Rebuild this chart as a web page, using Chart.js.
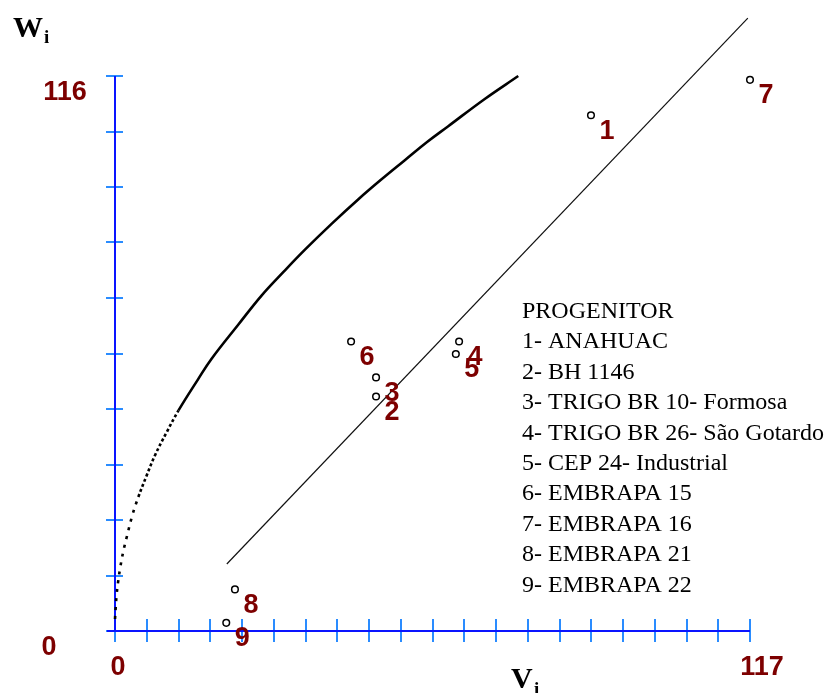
<!DOCTYPE html>
<html>
<head>
<meta charset="utf-8">
<title>Vi x Wi</title>
<script src="https://cdn.jsdelivr.net/npm/chart.js@4.4.1/dist/chart.umd.min.js"></script>
<style>
	html, body { margin: 0; padding: 0; background: #fff; }
	#wrap { position: relative; width: 831px; height: 693px; }
</style>
</head>
<body>
<div id="wrap"><canvas id="vrwr"></canvas></div>
<script>
// progenitors (Vi, Wi)
const progenitorIds = ["1", "2", "3", "4", "5", "6", "7", "8", "9"];
const progenitorV = [87.7, 48.1, 48.1, 63.4, 62.8, 43.5, 117.0, 22.1, 20.5];
const progenitorW = [107.8, 49.0, 53.0, 60.5, 57.9, 60.5, 115.2, 8.7, 1.7];

const progenitorNames = [
	"PROGENITOR",
	"1- ANAHUAC",
	"2- BH 1146",
	"3- TRIGO BR 10- Formosa",
	"4- TRIGO BR 26- São Gotardo",
	"5- CEP 24- Industrial",
	"6- EMBRAPA 15",
	"7- EMBRAPA 16",
	"8- EMBRAPA 21",
	"9- EMBRAPA 22",
];

// limiting parabola
const parabolaV = [0.0, 0.1, 0.3, 0.6, 0.9, 1.5, 2.2, 3.2, 4.3, 5.8, 7.4, 9.5, 11.7, 15.3, 17.8, 22.7, 27.0, 31.0, 35.0, 40.0, 44.8, 49.0, 53.4, 57.5, 61.4, 68.0, 74.3];
const parabolaW = [2.5, 4.4, 7.6, 10.5, 12.8, 16.5, 19.8, 24.2, 28.0, 32.4, 36.8, 41.5, 46.1, 52.6, 56.9, 64.0, 70.1, 75.0, 79.7, 85.2, 90.2, 94.3, 98.4, 102.2, 105.5, 111.1, 116.0];

// regression line Wi = a + b Vi
const regressionV = [20.6, 116.6];
const regressionW = [14.0, 128.1];

// axis ticks
const xTickCount = 20;
const yTickCount = 10;
const xMax = 117;
const yMax = 116;
const xTickLabels = ["0", "117"];
const yTickLabels = ["0", "116"];

const AXIS_BLUE = "#0a14ff";
const TICK_BLUE = "#2a8cff";
const LABEL_RED = "#7d0000";

const toPoints = (xs, ys) => xs.map((x, i) => ({ x: x, y: ys[i] }));

// the parabola is plotted point by point, so its steep lower part breaks into dots
const parabolaDash = (seg) => {
	const w = seg.p0.parsed.y;
	if (w < 26) return [3, 6];
	if (w < 46) return [3, 2.5];
	return undefined;
};

const axesPlugin = {
	id: "vrwrAxes",
	beforeDatasetsDraw(chart) {
		const ctx = chart.ctx;
		const xs = chart.scales.x;
		const ys = chart.scales.y;
		const x0 = xs.getPixelForValue(0);
		const y0 = ys.getPixelForValue(0);
		ctx.save();
		ctx.lineCap = "butt";

		// ticks
		ctx.strokeStyle = TICK_BLUE;
		ctx.lineWidth = 2;
		for (let i = 1; i <= xTickCount; i++) {
			const px = Math.round(xs.getPixelForValue((xMax / xTickCount) * i));
			ctx.beginPath();
			ctx.moveTo(px, y0 - 12);
			ctx.lineTo(px, y0 + 11);
			ctx.stroke();
		}
		for (let i = 1; i <= yTickCount; i++) {
			const py = Math.round(ys.getPixelForValue((yMax / yTickCount) * i));
			ctx.beginPath();
			ctx.moveTo(x0 - 9, py);
			ctx.lineTo(x0 + 8, py);
			ctx.stroke();
		}
		ctx.beginPath();
		ctx.moveTo(x0, y0 - 12);
		ctx.lineTo(x0, y0 + 11);
		ctx.moveTo(x0 - 9, y0);
		ctx.lineTo(x0 + 8, y0);
		ctx.stroke();

		// axis lines
		ctx.strokeStyle = AXIS_BLUE;
		ctx.lineWidth = 2;
		ctx.beginPath();
		ctx.moveTo(x0, ys.getPixelForValue(yMax));
		ctx.lineTo(x0, y0);
		ctx.moveTo(x0 - 8, y0);
		ctx.lineTo(xs.getPixelForValue(xMax), y0);
		ctx.stroke();
		ctx.restore();
	},
	afterDatasetsDraw(chart) {
		const ctx = chart.ctx;
		const xs = chart.scales.x;
		ctx.save();

		// tick labels
		ctx.fillStyle = LABEL_RED;
		ctx.font = "bold 27px 'Liberation Sans', Arial, sans-serif";
		ctx.textAlign = "center";
		ctx.textBaseline = "middle";
		ctx.fillText(xTickLabels[0], xs.getPixelForValue(0) + 3, 668);
		ctx.fillText(xTickLabels[1], xs.getPixelForValue(xMax) + 12, 668);
		ctx.fillText(yTickLabels[0], 49, 648);
		ctx.fillText(yTickLabels[1], 65, 93);

		// progenitor numbers beside their points
		const meta = chart.getDatasetMeta(2);
		meta.data.forEach((pt, i) => {
			ctx.fillText(progenitorIds[i], pt.x + 16, pt.y + 16);
		});

		// axis titles
		ctx.fillStyle = "#000";
		ctx.textAlign = "left";
		ctx.textBaseline = "alphabetic";
		ctx.font = "bold 30px 'Liberation Serif', 'Times New Roman', serif";
		ctx.fillText("W", 13, 37);
		ctx.fillText("V", 511, 688);
		ctx.font = "bold 19px 'Liberation Serif', 'Times New Roman', serif";
		ctx.fillText("i", 44, 43);
		ctx.fillText("i", 534, 695);

		// progenitor key
		ctx.font = "24px 'Liberation Serif', 'Times New Roman', serif";
		progenitorNames.forEach((line, i) => {
			ctx.fillText(line, 522, 318 + i * 30.4);
		});
		ctx.restore();
	},
};

new Chart(document.getElementById("vrwr"), {
	type: "scatter",
	data: {
		datasets: [
			{
				label: "Parábola limite",
				data: toPoints(parabolaV, parabolaW),
				showLine: true,
				borderColor: "#000",
				borderWidth: 2.6,
				pointRadius: 0,
				tension: 0.4,
				segment: { borderDash: parabolaDash },
				clip: false,
			},
			{
				label: "Regressão",
				data: toPoints(regressionV, regressionW),
				showLine: true,
				borderColor: "#111",
				borderWidth: 1.2,
				pointRadius: 0,
				clip: false,
			},
			{
				label: "Progenitores",
				data: toPoints(progenitorV, progenitorW),
				pointStyle: "circle",
				pointRadius: 3.3,
				borderWidth: 1.5,
				borderColor: "#000",
				backgroundColor: "#fff",
				clip: false,
			},
		],
	},
	options: {
		responsive: true,
		maintainAspectRatio: false,
		animation: false,
		layout: {
			padding: { left: 115, right: 81, top: 76, bottom: 62 },
		},
		scales: {
			x: { type: "linear", min: 0, max: xMax, display: false },
			y: { type: "linear", min: 0, max: yMax, display: false },
		},
		plugins: {
			legend: { display: false },
			tooltip: { enabled: false },
		},
	},
	plugins: [axesPlugin],
});
</script>
</body>
</html>
